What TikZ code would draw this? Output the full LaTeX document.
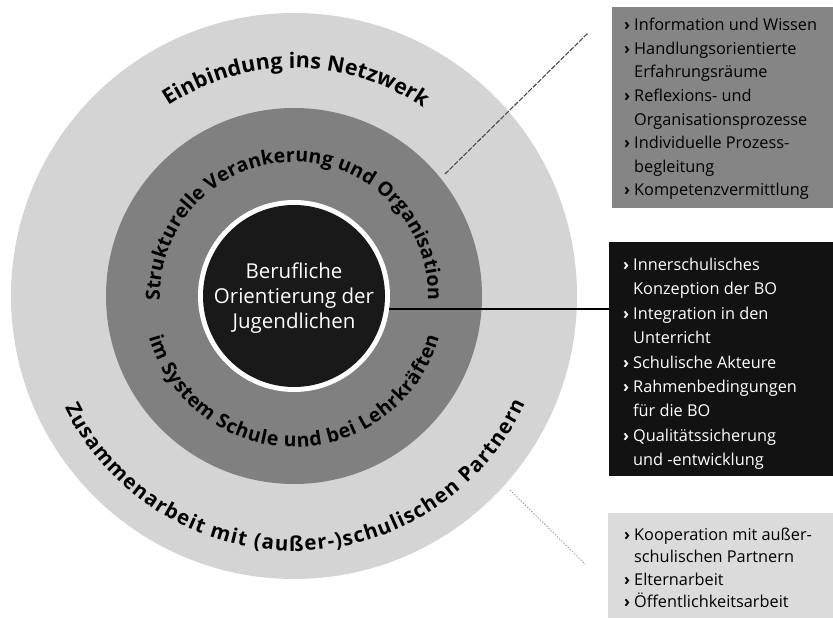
\documentclass[tikz,border=0pt]{standalone}
\usepackage{fontspec}
\setmainfont{Open Sans}
\usetikzlibrary{decorations.text}

\definecolor{ringouter}{gray}{0.83}
\definecolor{ringmid}{gray}{0.50}
\definecolor{corefill}{gray}{0.10}
\definecolor{boxtop}{gray}{0.52}
\definecolor{boxmid}{gray}{0.07}
\definecolor{boxlow}{gray}{0.86}

% list bullet and hanging indent for the side boxes
\newcommand\bul{\makebox[10pt][l]{\bfseries ›}}
\newcommand\ind{\hspace*{10pt}}

\begin{document}
\begin{tikzpicture}[x=1pt,y=1pt,
  listtext/.style={anchor=north west, align=left, inner sep=0pt},
  sidebox/.style={anchor=north west, inner sep=0pt, minimum width=#1},
  arctext/.style={decorate, decoration={text along path, text align={fit to path}, text={#1}}}
]
\useasboundingbox (0,0) rectangle (833,618);

% concentric rings
\coordinate (c) at (294,322);
\fill[ringouter] (c) circle[radius=283pt];
\fill[ringmid] (c) circle[radius=188pt];
\fill[white] (c) circle[radius=96pt];
\node[circle, fill=corefill, minimum size=182pt, inner sep=0pt] (core) at (c) {};
\node[text=white, align=center, font=\fontsize{20.5}{25}\selectfont] (coretext) at (294,320)
  {Berufliche\\Orientierung der\\Jugendlichen};

% curved ring labels
\begin{scope}[shift={(294,322)}]
  \path[arctext={|\bfseries\fontsize{21.5}{21.5}\selectfont|Einbindung ins Netzwerk}]
    (123.5:228pt) arc[start angle=123.5, end angle=55.5, radius=228pt];
  \path[arctext={|\bfseries\fontsize{20.5}{20.5}\selectfont|Zusammenarbeit mit (außer-)schulischen Partnern}]
    (206:255pt) arc[start angle=206, end angle=335, radius=255pt];
  \path[arctext={|\bfseries\fontsize{19.5}{19.5}\selectfont|Strukturelle Verankerung und Organisation}]
    (182:134pt) arc[start angle=182, end angle=-2, radius=134pt];
  \path[arctext={|\bfseries\fontsize{19.5}{19.5}\selectfont|im System Schule und bei Lehrkräften}]
    (196:151pt) arc[start angle=196, end angle=344, radius=151pt];
\end{scope}

% side boxes
\node[sidebox=221pt, minimum height=201pt, fill=boxtop] (topbox) at (612,611) {};
\node[sidebox=224pt, minimum height=234pt, fill=boxmid] (midbox) at (609,376) {};
\node[sidebox=225pt, minimum height=105pt, fill=boxlow] (lowbox) at (608,105) {};

\node[listtext, font=\fontsize{16.3}{23.6}\selectfont, text=black] (toplist) at (624,600)
  {\bul Information und Wissen\\
   \bul Handlungsorientierte\\
   \ind Erfahrungsräume\\
   \bul Reflexions- und\\
   \ind Organisationsprozesse\\
   \bul Individuelle Prozess-\\
   \ind begleitung\\
   \bul Kompetenzvermittlung};

\node[listtext, font=\fontsize{16.3}{24.4}\selectfont, text=white] (midlist) at (623,360)
  {\bul Innerschulisches\\
   \ind Konzeption der BO\\
   \bul Integration in den\\
   \ind Unterricht\\
   \bul Schulische Akteure\\
   \bul Rahmenbedingungen\\
   \ind für die BO\\
   \bul Qualitätssicherung\\
   \ind und -entwicklung};

\node[listtext, font=\fontsize{16.3}{22.3}\selectfont, text=black] (lowlist) at (624,90)
  {\bul Kooperation mit außer-\\
   \ind schulischen Partnern\\
   \bul Elternarbeit\\
   \bul Öffentlichkeitsarbeit};

% connectors from the rings to the boxes
\coordinate (d1) at (445,444);
\coordinate (d2) at (588,585);
\draw[black!70, line width=1.1pt, dash pattern=on 5pt off 1.5pt] (d1) -- (d2);

\coordinate (h1) at (389,309);
\draw[black, line width=2.6pt] (h1) -- (h1 -| midbox.west);

\coordinate (l1) at (510,128);
\coordinate (l2) at (585,54);
\draw[black!40, line width=0.8pt, dash pattern=on 1.5pt off 1.5pt] (l1) -- (l2);
\end{tikzpicture}
\end{document}
